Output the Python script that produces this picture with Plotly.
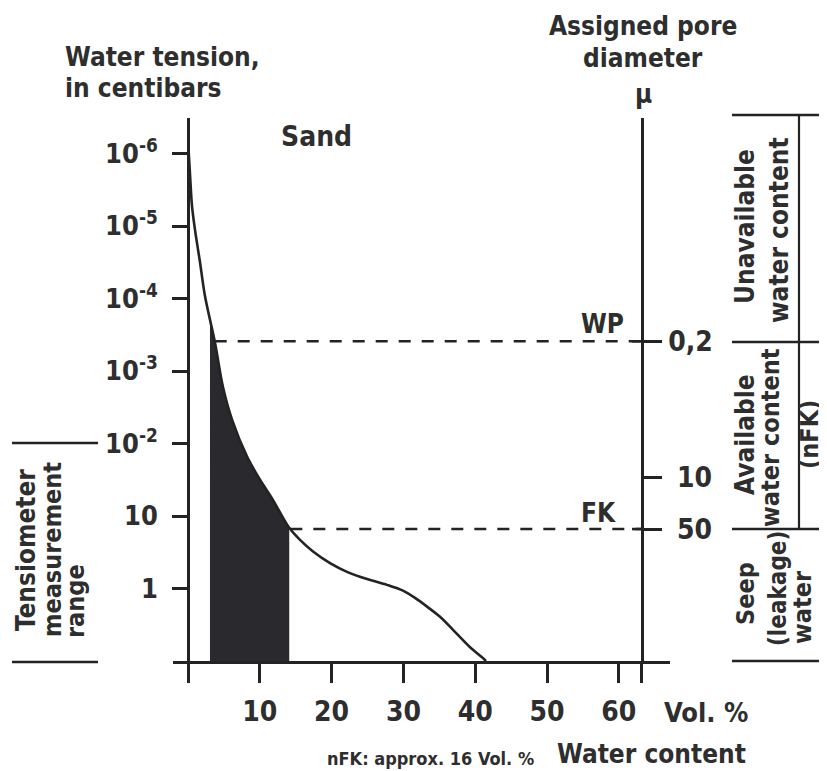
import numpy as np
import plotly.graph_objects as go

# ---------------- data ----------------
vol_pct = [0.07, 0.28, 0.56, 0.97, 1.67, 2.37, 3.76, 4.87, 6.13, 8.22, 10.03, 11.84,
           14.07, 15.6, 17.41, 19.78, 22.14, 24.93, 27.72, 29.94, 31.62, 33.29, 35.10,
           36.91, 39.28, 41.09, 41.5]
tension_level = [7.06, 6.71, 6.27, 5.95, 5.50, 5.03, 4.39, 3.78, 3.33, 2.82, 2.50, 2.22,
                 1.84, 1.67, 1.51, 1.35, 1.23, 1.13, 1.05, 0.97, 0.87, 0.75, 0.61,
                 0.43, 0.19, 0.04, 0.0]

tension_tick_levels = [1, 2, 3, 4, 5, 6, 7]
tension_tick_labels = ["1", "10", "10<sup>-2</sup>", "10<sup>-3</sup>",
                       "10<sup>-4</sup>", "10<sup>-5</sup>", "10<sup>-6</sup>"]

pore_tick_levels = [4.41, 2.53, 1.82]
pore_tick_labels = ["0,2", "\u00a010", "\u00a050"]

vol_ticks = [0, 10, 20, 30, 40, 50, 60, 63.2]
vol_tick_labels = ["", "10", "20", "30", "40", "50", "60", ""]

wp_level = 4.41
fk_level = 1.82
nfk_range = [3.06, 14.1]
pore_axis_x = 63.2

x_range = [-2.09, 67.13]
y_range = [0, 7.49]

# ---------------- layout helpers ----------------
OFF = 8  # page body margin
W, H = 827 - OFF, 771 - OFF
L, T = 173 - OFF, 118 - OFF
R = W - (670 - OFF)
B = H - (661 - OFF)
FONT = "Liberation Sans Narrow, 'DejaVu Sans Condensed', 'Roboto Condensed', Arial Narrow, sans-serif"
TXT = "#2e2e2e"
LINE = "#232323"


def px(x):
    return (x - OFF - L) / (W - L - R)


def py(y):
    return (H - B - (y - OFF)) / (H - T - B)


vx = np.array(vol_pct)
vy = np.array(tension_level)
wp_start = float(np.interp(wp_level, vy[::-1], vx[::-1]))
fk_start = float(np.interp(fk_level, vy[::-1], vx[::-1]))

mask = (vx > nfk_range[0]) & (vx < nfk_range[1])
y0 = float(np.interp(nfk_range[0], vx, vy))
y1 = float(np.interp(nfk_range[1], vx, vy))
fill_x = [nfk_range[0]] + list(vx[mask]) + [nfk_range[1]]
fill_y = [y0] + list(vy[mask]) + [y1]

fig = go.Figure()
fig.add_trace(go.Scatter(x=fill_x, y=fill_y, fill="tozeroy", fillcolor="#2a2a2e",
                         mode="lines", line=dict(width=0, shape="spline", smoothing=0.9),
                         hoverinfo="skip"))
fig.add_trace(go.Scatter(x=vol_pct, y=tension_level, mode="lines",
                         line=dict(color=LINE, width=2.6, shape="spline", smoothing=0.9)))
fig.add_trace(go.Scatter(x=[wp_start, pore_axis_x], y=[wp_level, wp_level], mode="lines",
                         line=dict(color=LINE, width=2.4, dash="12px,11px")))
fig.add_trace(go.Scatter(x=[fk_start, pore_axis_x], y=[fk_level, fk_level], mode="lines",
                         line=dict(color=LINE, width=2.4, dash="12px,11px")))
fig.add_trace(go.Scatter(x=[pore_axis_x], y=[wp_level], yaxis="y2", mode="markers",
                         marker=dict(opacity=0), hoverinfo="skip"))

shapes = []
for lv in [wp_level, fk_level]:
    shapes.append(dict(type="line", xref="paper", yref="y", x0=px(632), x1=px(642),
                       y0=lv, y1=lv, line=dict(color=LINE, width=2.6)))
for yy in [443, 662]:
    shapes.append(dict(type="line", xref="paper", yref="paper", x0=px(12), x1=px(98),
                       y0=py(yy), y1=py(yy), line=dict(color=LINE, width=2.6)))
for yy in [115, 342, 529, 661]:
    shapes.append(dict(type="line", xref="paper", yref="paper", x0=px(732), x1=px(830),
                       y0=py(yy), y1=py(yy), line=dict(color=LINE, width=2.6)))
shapes.append(dict(type="line", xref="paper", yref="paper", x0=px(799), x1=px(799),
                   y0=py(115), y1=py(529), line=dict(color=LINE, width=2.2)))

ann = []


def add(text, x, y, size, xa="center", ya="middle", angle=0):
    ann.append(dict(text=text, x=px(x), y=py(y), xref="paper", yref="paper",
                    xanchor=xa, yanchor=ya, textangle=angle, showarrow=False,
                    font=dict(family=FONT, size=size, color=TXT, weight="bold")))


add("Water tension,", 63, 57, 26, xa="left")
add("in centibars", 63, 88, 26, xa="left")
add("Assigned pore", 643, 26, 26)
add("diameter", 643, 58, 26)
add("\u03bc", 643, 94, 26)
add("Sand", 316, 136, 28)
add("WP", 602, 324, 26)
add("FK", 598, 513, 26)
add("Vol. %", 706, 712, 27)
add("Water content", 748, 754, 26, xa="right")
add("nFK: approx. 16 Vol. %", 430, 758, 18)
# left rotated
add("Tensiometer", 26, 550, 26, angle=-90)
add("measurement", 52, 550, 25, angle=-90)
add("range", 75, 640, 25, ya="bottom", angle=-90)
# right rotated
add("Unavailable", 745, 227, 26, angle=-90)
add("water content", 779, 230, 26, angle=-90)
add("Available", 745, 435, 26, angle=-90)
add("water content", 770, 438, 25, angle=-90)
add("(nFK)", 809, 435, 25, angle=-90)
add("Seep", 745, 594, 25, angle=-90)
add("(leakage)", 778, 589, 24, angle=-90)
add("water", 802, 607, 25, angle=-90)

fig.update_layout(
    width=W, height=H,
    margin=dict(l=L, r=R, t=T, b=B),
    plot_bgcolor="white", paper_bgcolor="white",
    showlegend=False,
    shapes=shapes,
    annotations=ann,
    xaxis=dict(range=x_range, showgrid=False, zeroline=False, showline=True,
               linecolor=LINE, linewidth=2.6, ticks="outside", ticklen=19,
               tickwidth=2.6, tickcolor=LINE, tickvals=vol_ticks, ticktext=vol_tick_labels,
               tickfont=dict(family=FONT, size=28, color=TXT, weight="bold"),
               ticklabelstandoff=5),
    yaxis=dict(range=y_range, showgrid=False, zeroline=False, showline=True,
               anchor="free", position=(0 - x_range[0]) / (x_range[1] - x_range[0]),
               linecolor=LINE, linewidth=2.6, ticks="outside", ticklen=15,
               tickwidth=2.6, tickcolor=LINE, tickvals=tension_tick_levels,
               ticktext=tension_tick_labels,
               tickfont=dict(family=FONT, size=27, color=TXT, weight="bold"),
               ticklabelstandoff=9),
    yaxis2=dict(range=y_range, overlaying="y", side="right", anchor="free",
                position=(pore_axis_x - x_range[0]) / (x_range[1] - x_range[0]),
                showgrid=False, zeroline=False, showline=True,
                linecolor=LINE, linewidth=2.6, ticks="outside", ticklen=18,
                tickwidth=2.6, tickcolor=LINE, tickvals=pore_tick_levels,
                ticktext=pore_tick_labels,
                tickfont=dict(family=FONT, size=28, color=TXT, weight="bold"),
                ticklabelstandoff=1),
)

fig.write_html("out.html")
